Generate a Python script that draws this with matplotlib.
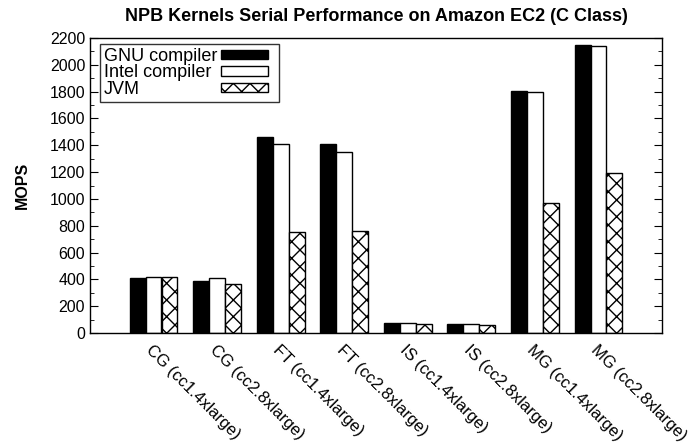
import matplotlib.pyplot as plt
import matplotlib.patches as mpatches
from matplotlib.legend_handler import HandlerPatch
import numpy as np

plt.rcParams['font.family'] = ['Liberation Sans', 'DejaVu Sans']
plt.rcParams['hatch.linewidth'] = 1.0

categories = ['CG (cc1.4xlarge)', 'CG (cc2.8xlarge)', 'FT (cc1.4xlarge)', 'FT (cc2.8xlarge)',
              'IS (cc1.4xlarge)', 'IS (cc2.8xlarge)', 'MG (cc1.4xlarge)', 'MG (cc2.8xlarge)']
gnu = [412, 388, 1464, 1407, 75, 65, 1805, 2150]
intel = [420, 408, 1407, 1350, 72, 65, 1800, 2142]
jvm = [415, 365, 755, 760, 67, 60, 969, 1195]

x = np.arange(len(categories))
w = 0.25

fig = plt.figure(figsize=(6.91, 4.45), dpi=100)
ax = fig.add_axes([90/691, 1 - 333/445, 572/691, 295/445])

b1 = ax.bar(x - w, gnu, w, color='black', edgecolor='black', linewidth=1, label='GNU compiler')
b2 = ax.bar(x, intel, w, color='white', edgecolor='black', linewidth=1, label='Intel compiler')
b3 = ax.bar(x + w, jvm, w, color='white', edgecolor='black', linewidth=1, hatch='xx', label='JVM')

ax.set_xlim(-1, 8)
ax.set_ylim(0, 2200)
ax.set_yticks(np.arange(0, 2201, 200))
ax.set_yticks(np.arange(0, 2201, 100), minor=True)
ax.tick_params(axis='y', which='both', direction='in', right=True, labelsize=11.5)
ax.tick_params(axis='y', which='major', length=6)
ax.tick_params(axis='y', which='minor', length=3)
ax.set_xticks(x)
ax.set_xticklabels(categories, rotation=-45, ha='left', va='top', rotation_mode='anchor', fontsize=12)
ax.tick_params(axis='x', length=0, pad=7)
for s in ax.spines.values():
    s.set_linewidth(1)

ax.set_ylabel('MOPS', fontsize=11.5, fontweight='bold', labelpad=14)
ax.set_title('NPB Kernels Serial Performance on Amazon EC2 (C Class)', fontsize=13, fontweight='bold', pad=12)


def key(legend, orig_handle, xdescent, ydescent, width, height, fontsize):
    # leave a little room between the key and the right border
    return mpatches.Rectangle((-xdescent, -ydescent), width - 5, height)


fs = 13
tp = 0.2
leg = ax.legend([b1[0], b2[0], b3[0]], ['GNU compiler', 'Intel compiler', 'JVM'],
                handler_map={mpatches.Rectangle: HandlerPatch(patch_func=key)},
                loc='upper left', bbox_to_anchor=(10/572, 1 - 6/295), markerfirst=False,
                fontsize=fs, frameon=True, fancybox=False, handlelength=3.0, handleheight=0.45,
                labelspacing=-0.03, borderpad=0.22, handletextpad=tp, borderaxespad=0)
leg.get_frame().set_edgecolor('black')
leg.get_frame().set_linewidth(1)

# left-align the legend texts while keeping the keys on the right
fig.canvas.draw()
renderer = fig.canvas.get_renderer()
widths = [t.get_window_extent(renderer).width for t in leg.get_texts()]
maxw = max(widths)
rows = leg._legend_handle_box.get_children()[0].get_children()
for row, wd in zip(rows, widths):
    row.sep = tp * fs + (maxw - wd) * 72 / fig.dpi

fig.savefig('out.png', dpi=100)
